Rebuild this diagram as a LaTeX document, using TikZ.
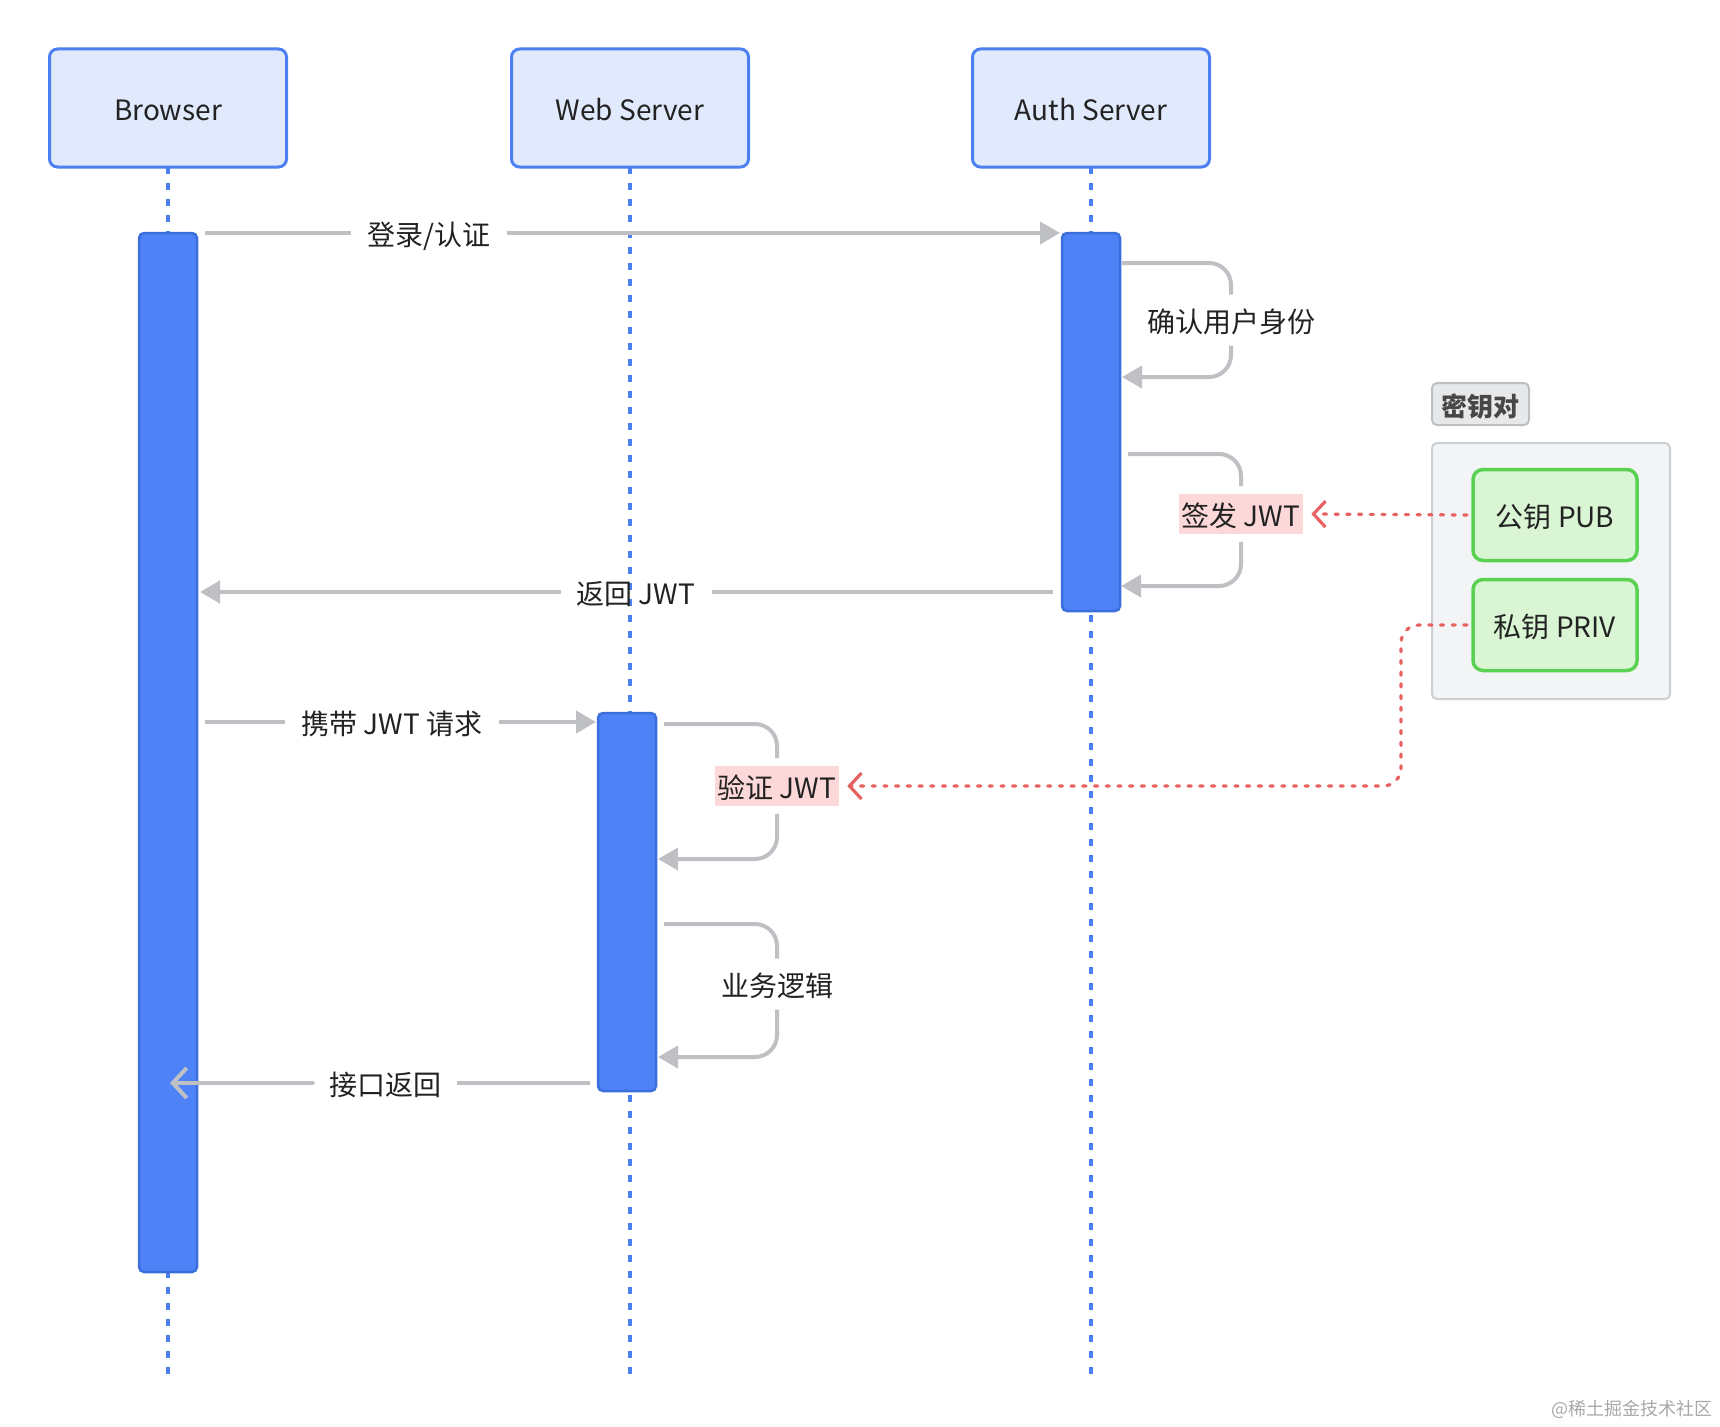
\documentclass[tikz,border=0pt]{standalone}
\usepackage{fontspec}
\setmainfont{Noto Sans CJK SC}
\usetikzlibrary{arrows.meta}
\definecolor{partfill}{HTML}{E1E9FD}
\definecolor{partdraw}{HTML}{4C80F0}
\definecolor{actfill}{HTML}{4E83F7}
\definecolor{actdraw}{HTML}{3D6FDC}
\definecolor{msggray}{HTML}{BEC0C3}
\definecolor{txtcol}{HTML}{222222}
\definecolor{grpfill}{HTML}{F3F4F5}
\definecolor{grpdraw}{HTML}{CDD0D3}
\definecolor{tagfill}{HTML}{E7E8EA}
\definecolor{tagdraw}{HTML}{BDC0C3}
\definecolor{tagtxt}{HTML}{474747}
\definecolor{keyfill}{HTML}{D9F5D4}
\definecolor{keydraw}{HTML}{5BD152}
\definecolor{dotred}{HTML}{E86262}
\definecolor{pinkbg}{HTML}{FDD8D8}
\definecolor{wmgray}{HTML}{A8A8A8}
\begin{document}
\begin{tikzpicture}[x=1pt,y=-1pt,
  font=\fontsize{28}{34}\selectfont, text=txtcol,
  txtbox/.style={text height=26pt, text depth=0.6pt},
  participant/.style={txtbox, draw=partdraw, fill=partfill, line width=3pt, rounded corners=8pt, minimum width=237pt, minimum height=118pt, inner sep=0pt},
  actbar/.style={draw=actdraw, fill=actfill, line width=2.5pt, rounded corners=5pt, minimum width=58pt, inner sep=0pt},
  lifeline/.style={draw=partdraw, line width=3.5pt, dash pattern=on 7pt off 9pt},
  msgline/.style={draw=msggray, line width=4pt},
  tri/.style={-{Triangle[length=20pt,width=22pt]}},
  barb/.style={-{Straight Barb[length=14pt,width=30pt]}, line cap=round},
  msglabel/.style={txtbox, inner xsep=16pt, inner ysep=12pt},
  pinklabel/.style={txtbox, fill=pinkbg, inner xsep=3pt, inner ysep=6.5pt, outer sep=8pt},
  loopcorner/.style={rounded corners=22pt},
  keylink/.style={draw=dotred, line width=3.2pt, dash pattern=on 3.2pt off 8.5pt},
  redtip/.style={-{Straight Barb[length=12pt,width=26pt]}, line cap=round},
  grpbox/.style={draw=grpdraw, fill=grpfill, line width=2pt, rounded corners=5pt, minimum width=238pt, minimum height=256pt, inner sep=0pt},
  tagbox/.style={txtbox, draw=tagdraw, fill=tagfill, line width=2pt, rounded corners=5pt, minimum width=97pt, minimum height=42pt, inner sep=0pt, text=tagtxt, font=\fontsize{26}{30}\selectfont\bfseries},
  keybox/.style={txtbox, draw=keydraw, fill=keyfill, line width=3.5pt, rounded corners=10pt, minimum width=164pt, minimum height=91pt, inner sep=0pt, outer sep=6pt}
]
\useasboundingbox (0,0) rectangle (1720,1426);

% lifelines
\coordinate (eB) at (168,1375);
\coordinate (eW) at (630,1375);
\coordinate (eA) at (1091,1375);
\draw[lifeline] (168,167) -- (eB);
\draw[lifeline] (630,167) -- (eW);
\draw[lifeline] (1091,167) -- (eA);

% participants
\node[participant] (pB) at (168,108) {Browser};
\node[participant] (pW) at (630,108) {Web Server};
\node[participant] (pA) at (1091,108) {Auth Server};

% activations
\node[actbar, minimum height=1039pt] (actB) at (168,752.5) {};
\node[actbar, minimum height=378pt] (actA) at (1091,422) {};
\node[actbar, minimum height=378pt] (actW) at (627,902) {};

% group: key pair
\node[grpbox] (grp) at (1551,571) {};
\node[tagbox] (tag) at (1480.5,404) {密钥对};
\node[keybox] (pub) at (1555,515) {公钥 PUB};
\node[keybox] (priv) at (1555,625) {私钥 PRIV};

% message 1
\coordinate (m1s) at (205,233);
\coordinate (m1e) at (1060,233);
\node[msglabel] (m1) at (429,233) {登录/认证};
\draw[msgline] (m1s) -- (m1.west);
\draw[msgline, tri] (m1.east) -- (m1e);

% self 1
\coordinate (s1a) at (1122,263);
\coordinate (s1b) at (1122,377);
\node[msglabel] (s1) at (1231,320) {确认用户身份};
\draw[msgline, loopcorner] (s1a) -| (s1.north);
\draw[msgline, loopcorner, tri] (s1.south) |- (s1b);

% self 2
\coordinate (s2a) at (1128,454);
\coordinate (s2b) at (1121,586);
\node[pinklabel] (s2) at (1241,514) {签发 JWT};
\draw[msgline, loopcorner] (s2a) -| (s2.north);
\draw[msgline, loopcorner, tri] (s2.south) |- (s2b);

% message 4
\coordinate (m4s) at (1053,592);
\coordinate (m4e) at (200,592);
\node[msglabel] (m4) at (636,592) {返回 JWT};
\draw[msgline] (m4s) -- (m4.east);
\draw[msgline, tri] (m4.west) -- (m4e);

% message 5
\coordinate (m5s) at (205,722);
\coordinate (m5e) at (596,722);
\node[msglabel] (m5) at (392,722) {携带 JWT 请求};
\draw[msgline] (m5s) -- (m5.west);
\draw[msgline, tri] (m5.east) -- (m5e);

% self 3
\coordinate (s3a) at (664,724);
\coordinate (s3b) at (658,859);
\node[pinklabel] (s3) at (777,786) {验证 JWT};
\draw[msgline, loopcorner] (s3a) -| (s3.north);
\draw[msgline, loopcorner, tri] (s3.south) |- (s3b);

% self 4
\coordinate (s4a) at (664,924);
\coordinate (s4b) at (658,1057);
\node[msglabel] (s4) at (777,984) {业务逻辑};
\draw[msgline, loopcorner] (s4a) -| (s4.north);
\draw[msgline, loopcorner, tri] (s4.south) |- (s4b);

% message 8
\coordinate (m8s) at (590,1083);
\coordinate (m8e) at (170,1083);
\node[msglabel] (m8) at (385,1083) {接口返回};
\draw[msgline] (m8s) -- (m8.east);
\draw[msgline, barb] (m8.west) -- (m8e);

% key links
\draw[keylink, redtip] (pub.west) -- (s2.east);
\coordinate (kbend) at (1401,786);
\draw[keylink, redtip, rounded corners=18pt] (priv.west) -| (kbend) -- (s3.east);

% watermark
\node[anchor=east, text=wmgray, font=\fontsize{18}{20}\selectfont, inner sep=0pt] (wm) at (1713,1409) {@稀土掘金技术社区};
\end{tikzpicture}
\end{document}
